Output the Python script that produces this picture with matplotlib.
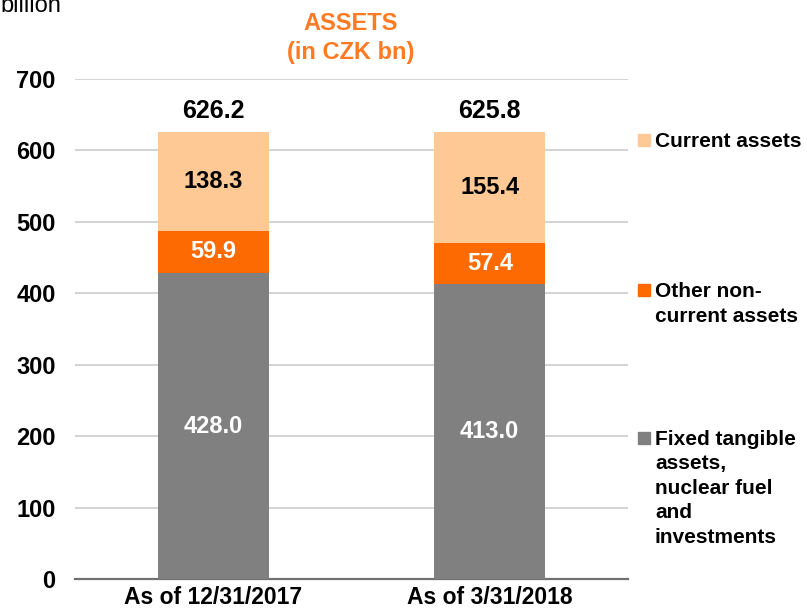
import matplotlib
matplotlib.use("Agg")
import matplotlib.pyplot as plt
import numpy as np

categories = ["As of 12/31/2017", "As of 3/31/2018"]
fixed = [428.0, 413.0]
other = [59.9, 57.4]
current = [138.3, 155.4]
totals = [626.2, 625.8]
yticks = [0, 100, 200, 300, 400, 500, 600, 700]
legend_labels = ["Current assets", "Other non-\ncurrent assets",
                 "Fixed tangible\nassets,\nnuclear fuel\nand\ninvestments"]

c_cur = "#FFC995"
c_oth = "#FD6A02"
c_fix = "#808080"
c_title = "#FF7A22"

plt.rcParams['font.family'] = ['Liberation Sans', 'DejaVu Sans']

W, H = 807, 616
fig = plt.figure(figsize=(W / 100, H / 100), dpi=100)
ax = fig.add_axes([75 / W, 1 - 579 / H, (628 - 75) / W, 500 / H])

x = np.arange(len(categories))
w = 0.4
ax.bar(x, fixed, w, color=c_fix, zorder=3)
ax.bar(x, other, w, bottom=fixed, color=c_oth, zorder=3)
b2 = [f + o for f, o in zip(fixed, other)]
ax.bar(x, current, w, bottom=b2, color=c_cur, zorder=3)

for i in range(len(x)):
    ax.text(x[i], fixed[i] / 2, f"{fixed[i]:.1f}", ha='center', va='center',
            color='white', fontsize=17, fontweight='bold', zorder=4)
    ax.text(x[i], fixed[i] + other[i] / 2, f"{other[i]:.1f}", ha='center', va='center',
            color='white', fontsize=17, fontweight='bold', zorder=4)
    ax.text(x[i], b2[i] + current[i] / 2, f"{current[i]:.1f}", ha='center', va='center',
            color='black', fontsize=17, fontweight='bold', zorder=4)
    ax.annotate(f"{totals[i]:.1f}", xy=(x[i], totals[i]), xytext=(0, 15),
                textcoords='offset points', ha='center', va='center',
                color='black', fontsize=18, fontweight='bold', zorder=4)

ax.set_xlim(-0.5, 1.5)
ax.set_ylim(0, 700)
ax.set_yticks(yticks)
ax.set_yticklabels([str(t) for t in yticks], fontsize=17, fontweight='bold')
ax.set_xticks(x)
ax.set_xticklabels(categories, fontsize=16.5, fontweight='bold')
ax.tick_params(axis='both', length=0)
ax.tick_params(axis='y', pad=14)
ax.tick_params(axis='x', pad=5)
ax.yaxis.grid(True, color='#D0D0D0', linewidth=1.3, zorder=0)
for s in ['left', 'right', 'top']:
    ax.spines[s].set_visible(False)
ax.spines['bottom'].set_color('#707070')
ax.spines['bottom'].set_linewidth(1.6)

fig.text(351 / W, 1 - 23 / H, "ASSETS", ha='center', va='center', color=c_title,
         fontsize=17, fontweight='bold')
fig.text(351 / W, 1 - 53 / H, "(in CZK bn)", ha='center', va='center', color=c_title,
         fontsize=17, fontweight='bold')
fig.text(0 / W, 1 - 12 / H, "billion", ha='left', va='baseline', color='black', fontsize=17)

legend_colors = [c_cur, c_oth, c_fix]
legend_baselines = [147, 297, 445]
line_step = 24.5
for col, lab, yb in zip(legend_colors, legend_labels, legend_baselines):
    fig.patches.append(plt.Rectangle((638 / W, 1 - (yb - 1) / H), 12 / W, 12 / H,
                                     transform=fig.transFigure, color=col, figure=fig))
    for k, line in enumerate(lab.split("\n")):
        fig.text(655 / W, 1 - (yb + k * line_step) / H, line, ha='left', va='baseline',
                 fontsize=15, fontweight='bold')

fig.savefig("out.png", dpi=100)
